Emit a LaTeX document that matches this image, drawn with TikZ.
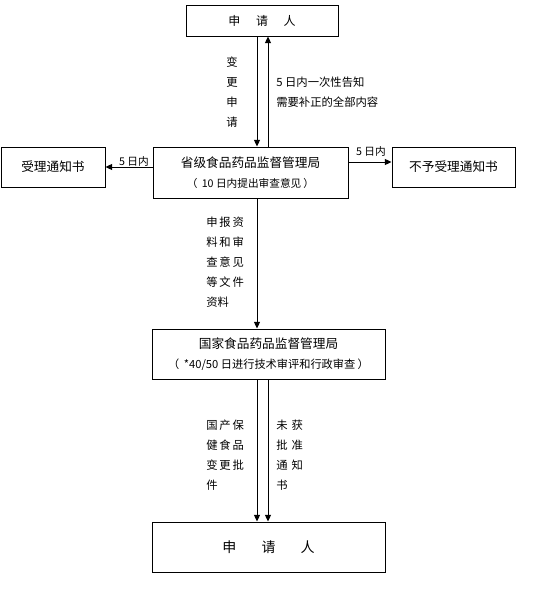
\documentclass[tikz,border=0pt]{standalone}
\usepackage{fontspec}
\setmainfont{Noto Sans CJK SC}
\usepackage{tikz}
\usetikzlibrary{arrows.meta}

\tikzset{
  box/.style={draw,line width=0.7pt,inner sep=0pt,align=center},
  lbl/.style={inner sep=0pt,align=left,font=\fontsize{8.5}{15}\selectfont},
  arr/.style={line width=0.7pt,-{Triangle[length=5pt,width=4.5pt]}}
}

\begin{document}
\begin{tikzpicture}[x=0.75pt,y=-0.75pt]
\useasboundingbox (0,0) rectangle (560,596);
\coordinate (xl) at (257,0);
\coordinate (xr) at (268,0);
% boxes
\node[box,minimum width=114pt,minimum height=23.25pt,font=\fontsize{9}{12}\selectfont] at (262,20.5) (top) {申\hspace{1.3em}请\hspace{1.3em}人};
\node[box,minimum width=146.25pt,minimum height=38.25pt,font=\fontsize{9.5}{15}\selectfont] at (250.5,172.5) (prov) {省级食品药品监督管理局\\{\fontsize{8}{10}\selectfont （\hspace{0.4em}10 日内提出审查意见\hspace{0.2em}）}};
\node[box,minimum width=78pt,minimum height=30pt,font=\fontsize{9.5}{12}\selectfont] at (53,167) (acc) {受理通知书};
\node[box,minimum width=92.25pt,minimum height=30pt,font=\fontsize{9.5}{12}\selectfont] at (453.5,167) (rej) {不予受理通知书};
\node[box,minimum width=174.75pt,minimum height=37.5pt,font=\fontsize{9.5}{15}\selectfont] at (268.5,354) (nat) {国家食品药品监督管理局\\{\fontsize{8.4}{10}\selectfont （\hspace{0.4em}*40/50 日进行技术审评和行政审查\hspace{0.2em}）}};
\node[box,minimum width=174.75pt,minimum height=37.5pt,font=\fontsize{10.5}{12}\selectfont] at (268.5,547) (app) {申\hspace{1.8em}请\hspace{1.8em}人};
% arrows
\draw[arr] (top.south -| xl) -- (prov.north -| xl);
\draw[arr] (prov.north -| xr) -- (top.south -| xr);
\draw[arr] (prov.west |- acc) -- (acc.east);
\draw[arr] (prov.east |- 0,162) -- (rej.west |- 0,162);
\draw[arr] (prov.south -| xl) -- (nat.north -| xl);
\draw[arr] (nat.south -| xl) -- (app.north -| xl);
\draw[arr] (nat.south -| xr) -- (app.north -| xr);
% labels
\node[lbl,align=center] at (232,92) (chg) {变\\更\\申\\请};
\node[lbl,anchor=west] at (276,92) (ntc) {5 日内一次性告知\\需要补正的全部内容};
\node[lbl,font=\fontsize{8}{10}\selectfont] at (134,161) (d5l) {5 日内};
\node[lbl,font=\fontsize{8}{10}\selectfont] at (371,151) (d5r) {5 日内};
\node[lbl,anchor=west] at (206,262.5) (doc) {申\,报\,资\\料\,和\,审\\查\,意\,见\\等\,文\,件\\资料};
\node[lbl,anchor=west] at (206,455) (ok) {国\,产\,保\\健\,食\,品\\变\,更\,批\\件};
\node[lbl,anchor=west] at (276,455) (no) {未\hspace{0.35em}获\\批\hspace{0.35em}准\\通\hspace{0.35em}知\\书};
\end{tikzpicture}
\end{document}
